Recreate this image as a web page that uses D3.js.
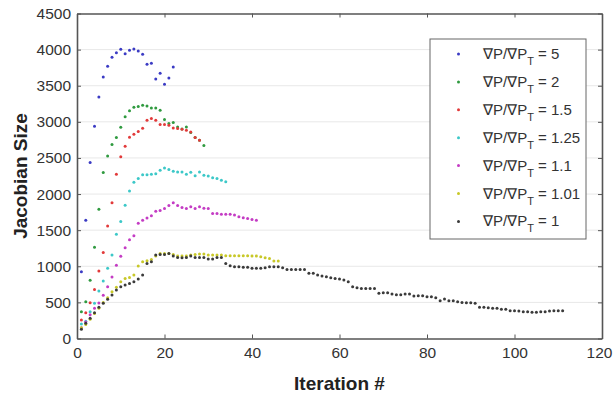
<!DOCTYPE html>
<html>
<head>
<meta charset="utf-8">
<script src="https://cdn.jsdelivr.net/npm/d3@7"></script>
<style>
  body { margin: 0; background: #fff; }
  text { font-family: "Liberation Sans", Arial, sans-serif; }
</style>
</head>
<body>
<div id="chart"></div>
<script>
// Jacobian size per iteration, one array per gradient ratio (iterations start at 1)
const ratio5 = [924, 1639, 2437, 2940, 3345, 3621, 3769, 3893, 3958, 4004, 3944, 3990, 4008, 3981, 3935,
  3797, 3810, 3594, 3672, 3520, 3607, 3759];
const ratio2 = [371, 509, 805, 1265, 1791, 2299, 2528, 2686, 2783, 2925, 3072, 3155, 3202, 3213, 3228,
  3218, 3193, 3193, 3162, 3032, 2976, 2992, 2930, 2902, 2930, 2852, 2783, 2745, 2672];
const ratio15 = [256, 357, 495, 680, 934, 1192, 1558, 1880, 2275, 2515, 2663, 2787, 2828, 2866, 2911,
  3022, 3046, 3022, 2963, 2963, 2953, 2916, 2907, 2898, 2884, 2860, 2783, 2745];
const ratio125 = [200, 240, 370, 487, 657, 795, 971, 1155, 1445, 1620, 1845, 2044, 2165, 2215, 2266,
  2266, 2275, 2280, 2330, 2362, 2340, 2317, 2307, 2307, 2275, 2303, 2252, 2307, 2261, 2250,
  2225, 2215, 2190, 2170];
const ratio11 = [150, 230, 330, 420, 490, 600, 716, 850, 1015, 1140, 1256, 1367, 1422, 1597, 1639,
  1667, 1699, 1763, 1773, 1801, 1842, 1878, 1842, 1815, 1801, 1823, 1801, 1823, 1805, 1801,
  1732, 1732, 1722, 1722, 1722, 1709, 1685, 1671, 1662, 1649, 1639];
const ratio101 = [150, 195, 265, 345, 420, 500, 564, 647, 708, 786, 832, 846, 878, 1003, 1063,
  1077, 1095, 1141, 1178, 1178, 1178, 1164, 1141, 1141, 1141, 1155, 1164, 1170, 1169, 1155,
  1155, 1155, 1155, 1145, 1145, 1145, 1145, 1145, 1145, 1141, 1141, 1132, 1118, 1109, 1072, 1072];
const ratio1 = [127, 210, 279, 357, 432, 487, 542, 602, 671, 716, 740, 763, 786, 823, 878,
  1040, 1063, 1155, 1164, 1164, 1178, 1141, 1123, 1118, 1123, 1141, 1123, 1123, 1123, 1100,
  1100, 1123, 1123, 1040, 1007, 993, 993, 985, 985, 971, 971, 971, 980, 993, 993,
  993, 980, 957, 957, 957, 957, 957, 902, 902, 878, 864, 855, 841, 832, 823,
  809, 786, 716, 703, 694, 694, 694, 694, 625, 634, 634, 615, 606, 606, 615,
  615, 588, 592, 592, 578, 578, 564, 523, 546, 523, 523, 509, 500, 495, 495,
  487, 432, 432, 426, 418, 418, 404, 404, 385, 385, 380, 371, 371, 362, 362,
  371, 371, 380, 385, 385, 385];

const seriesNames = ['5', '2', '1.5', '1.25', '1.1', '1.01', '1'];
const seriesValues = [ratio5, ratio2, ratio15, ratio125, ratio11, ratio101, ratio1];
const seriesColors = ['#3b3bc4', '#2f9a3f', '#e23a3a', '#3cc8c8', '#c43cc4', '#c8c828', '#3a3a3a'];

const xTicks = [0, 20, 40, 60, 80, 100, 120];
const yTicks = [0, 500, 1000, 1500, 2000, 2500, 3000, 3500, 4000, 4500];

const width = 613, height = 396;
const margin = { top: 13.5, right: 11, bottom: 57.5, left: 77 };
const innerW = width - margin.left - margin.right;
const innerH = height - margin.top - margin.bottom;

const svg = d3.select('#chart')
  .append('svg')
    .attr('width', width)
    .attr('height', height);

const g = svg.append('g')
  .attr('transform', 'translate(' + margin.left + ',' + margin.top + ')');

const x = d3.scaleLinear().domain([0, 120]).range([0, innerW]);
const y = d3.scaleLinear().domain([0, 4500]).range([innerH, 0]);

// horizontal grid
g.append('g')
  .selectAll('line')
  .data(yTicks.slice(1, -1))
  .join('line')
    .attr('x1', 0).attr('x2', innerW)
    .attr('y1', d => y(d)).attr('y2', d => y(d))
    .attr('stroke', '#e8e8e8')
    .attr('stroke-width', 1);

// axes (ticks pointing inward, MATLAB style)
const axisColor = '#555';
const xAxis = g.append('g')
  .attr('transform', 'translate(0,' + innerH + ')')
  .call(d3.axisBottom(x).tickValues(xTicks).tickSizeInner(-4).tickSizeOuter(0).tickPadding(8));
const yAxis = g.append('g')
  .call(d3.axisLeft(y).tickValues(yTicks).tickFormat(d3.format('d'))
    .tickSizeInner(-4).tickSizeOuter(0).tickPadding(6));
const xTop = g.append('g')
  .call(d3.axisTop(x).tickValues(xTicks).tickSizeInner(-4).tickSizeOuter(0).tickFormat(''));
const yRight = g.append('g')
  .attr('transform', 'translate(' + innerW + ',0)')
  .call(d3.axisRight(y).tickValues(yTicks).tickSizeInner(-4).tickSizeOuter(0).tickFormat(''));

[xAxis, yAxis, xTop, yRight].forEach(a => {
  a.select('.domain').attr('stroke', axisColor).attr('stroke-width', 1.6);
  a.selectAll('.tick line').attr('stroke', axisColor);
  a.selectAll('.tick text')
    .attr('fill', '#333')
    .style('font-size', '15.5px')
    .style('font-family', '"Liberation Sans", Arial, sans-serif');
});
// keep the last x label inside the window
xAxis.selectAll('.tick text').filter(d => d === 120).attr('dx', -3);

// points
seriesValues.forEach((vals, si) => {
  g.append('g')
    .selectAll('circle')
    .data(vals)
    .join('circle')
      .attr('cx', (d, i) => x(i + 1))
      .attr('cy', d => y(d))
      .attr('r', 1.5)
      .attr('fill', seriesColors[si]);
});

// axis titles
svg.append('text')
  .attr('x', margin.left + innerW / 2)
  .attr('y', 390)
  .attr('text-anchor', 'middle')
  .style('font-size', '19px')
  .style('font-weight', 'bold')
  .attr('fill', '#222')
  .text('Iteration #');

svg.append('text')
  .attr('transform', 'translate(27,' + (margin.top + innerH / 2) + ') rotate(-90)')
  .attr('text-anchor', 'middle')
  .style('font-size', '19px')
  .style('font-weight', 'bold')
  .attr('fill', '#222')
  .text('Jacobian Size');

// legend
const legend = svg.append('g').attr('transform', 'translate(430,39)');
legend.append('rect')
  .attr('width', 156).attr('height', 200)
  .attr('fill', '#fff')
  .attr('stroke', '#666')
  .attr('stroke-width', 1);

seriesNames.forEach((name, i) => {
  const row = legend.append('g').attr('transform', 'translate(0,' + (15 + i * 27.9) + ')');
  row.append('circle')
    .attr('cx', 28.5).attr('cy', 0)
    .attr('r', 1.5)
    .attr('fill', seriesColors[i]);
  const t = row.append('text')
    .attr('x', 53).attr('y', 5)
    .style('font-size', '15px')
    .attr('fill', '#333');
  t.append('tspan').text('\u2207P/\u2207P');
  t.append('tspan').attr('dy', 6).style('font-size', '11px').text('T');
  t.append('tspan').attr('dy', -6).text(' = ' + name);
});
</script>
</body>
</html>
